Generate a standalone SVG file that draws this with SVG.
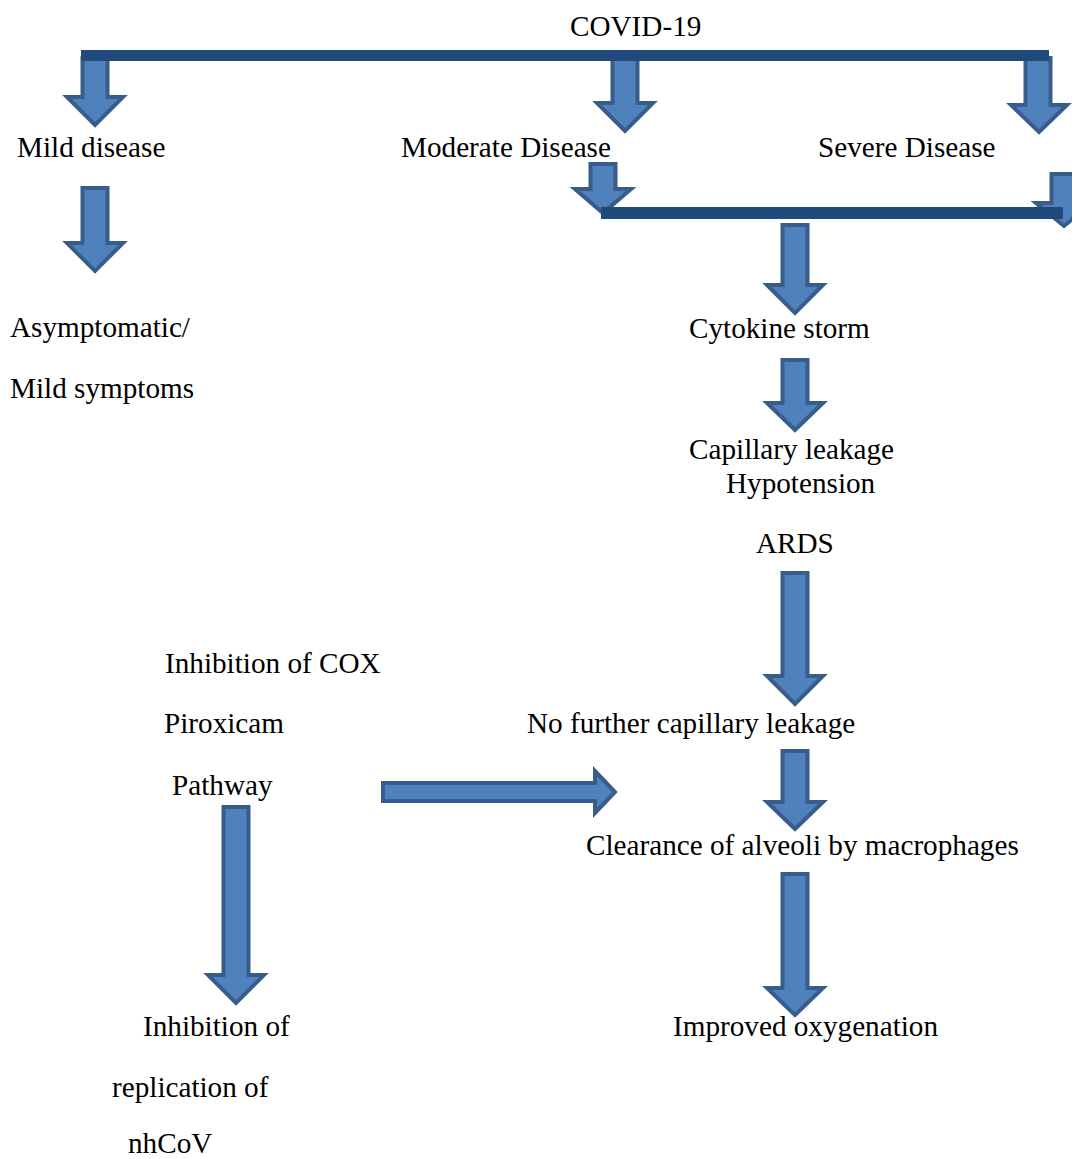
<svg xmlns="http://www.w3.org/2000/svg" width="1072" height="1159" viewBox="0 0 1072 1159">
<defs>
<style>
text{font-family:"Liberation Serif","Times New Roman",serif;font-size:29.2px;fill:#000}
.arr{fill:#4F81BD;stroke:#385D8A;stroke-width:4;stroke-linejoin:miter}
.bar{fill:#214A7C}
</style>
</defs>
<rect width="1072" height="1159" fill="#fff"/>
<g id="connectors">
<path id="a-mild" class="arr" d="M82.5,58 H107.5 V97 H123 L95,125 L67,97 H82.5 Z"/>
<path id="a-moderate" class="arr" d="M612.5,58 H637.5 V103 H653 L625,131 L597,103 H612.5 Z"/>
<path id="a-severe" class="arr" d="M1025.5,58 H1050.5 V105 H1067 L1039,132 L1011,105 H1025.5 Z"/>
<path id="a-mild2" class="arr" d="M82.5,188 H107.5 V243 H123 L95,271 L67,243 H82.5 Z"/>
<path id="a-mod2" class="arr" d="M590.5,164 H615.5 V189 H631 L603,213 L575,189 H590.5 Z"/>
<path id="a-sev2" class="arr" d="M1051.5,174 H1076.5 V203 H1092 L1064,226 L1036,203 H1051.5 Z"/>
<path id="a-cyto" class="arr" d="M782.5,225 H807.5 V285 H823 L795,313 L767,285 H782.5 Z"/>
<path id="a-cap" class="arr" d="M782.5,360 H807.5 V403 H823 L795,430 L767,403 H782.5 Z"/>
<path id="a-ards" class="arr" d="M782.5,573 H807.5 V676 H823 L795,704 L767,676 H782.5 Z"/>
<path id="a-nofurther" class="arr" d="M782.5,751 H807.5 V802 H823 L795,829 L767,802 H782.5 Z"/>
<path id="a-clear" class="arr" d="M782.5,874 H807.5 V988 H823 L795,1015 L767,988 H782.5 Z"/>
<path id="a-path" class="arr" d="M223.5,807 H248.5 V975 H264 L236,1003 L208,975 H223.5 Z"/>
<path id="a-right" class="arr" d="M383,783 H595 V771 L615,792 L595,813 V801 H383 Z"/>
<rect class="bar" x="81" y="50" width="968" height="11"/>
<rect class="bar" x="601" y="207" width="462" height="12"/>
</g>
<g id="n-covid"><text x="570" y="36">COVID-19</text></g>
<g id="n-mild"><text x="17" y="157">Mild disease</text></g>
<g id="n-moderate"><text x="401" y="157">Moderate Disease</text></g>
<g id="n-severe"><text x="818" y="157">Severe Disease</text></g>
<g id="n-asym"><text x="10" y="337">Asymptomatic/</text><text x="10" y="398">Mild symptoms</text></g>
<g id="n-cyto"><text x="689" y="338">Cytokine storm</text></g>
<g id="n-cap"><text x="689" y="459">Capillary leakage</text><text x="726" y="493">Hypotension</text><text x="756" y="553">ARDS</text></g>
<g id="n-cox"><text x="165" y="673">Inhibition of COX</text><text x="164" y="733">Piroxicam</text><text x="172" y="795">Pathway</text></g>
<g id="n-nofurther"><text x="527" y="733">No further capillary leakage</text></g>
<g id="n-clear"><text x="586" y="855">Clearance of alveoli by macrophages</text></g>
<g id="n-improved"><text x="673" y="1036">Improved oxygenation</text></g>
<g id="n-inhib"><text x="143" y="1036">Inhibition of</text><text x="112" y="1097">replication of</text><text x="128" y="1153">nhCoV</text></g>
</svg>
